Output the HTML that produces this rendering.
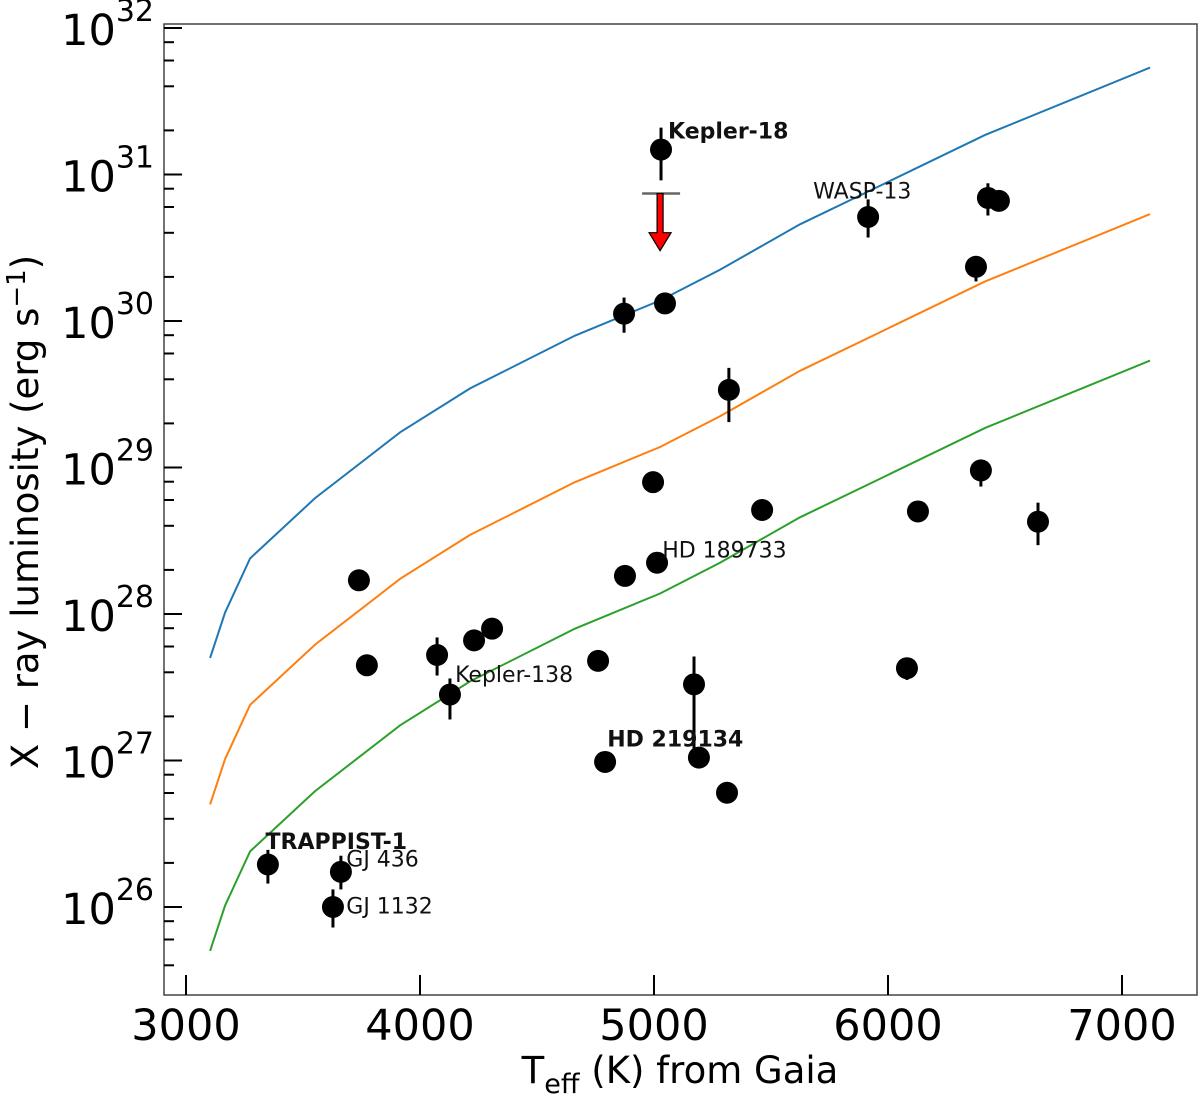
<!DOCTYPE html>
<html><head><meta charset="utf-8"><style>
body{margin:0;background:#fff}
svg{display:block;font-family:"DejaVu Sans","Liberation Sans",sans-serif}
</style></head><body>
<svg id="chart" width="1200" height="1094" viewBox="0 0 1200 1094"></svg>
<script>
// Model curve template (blue = offset 0, orange = -1 dex, green = -2 dex)
const curveT=[3103,3167,3274,3551,3915,4214,4662,5026,5282,5624,5923,6415,7120];
const curveLogL=[27.70,28.01,28.38,28.79,29.24,29.54,29.90,30.14,30.35,30.66,30.89,31.27,31.73];
const curveOffsets=[0,-1,-2];
const curveColors=["#1f77b4","#ff7f0e","#2ca02c"];
// Stars
const starT=[5030,5915,6427,6474,6376,4872,5047,5320,4996,5462,6397,6128,6641,3739,4876,5013,4231,4308,3773,4073,4761,4128,6081,5171,4791,5192,5312,3350,3662,3628];
const starLogL=[31.17,30.71,30.84,30.82,30.37,30.05,30.12,29.53,28.90,28.71,28.98,28.70,28.63,28.23,28.26,28.35,27.82,27.90,27.65,27.72,27.68,27.45,27.63,27.52,26.99,27.02,26.78,26.29,26.24,26.00];
const errLo=[30.96,30.57,30.72,null,30.27,29.92,null,29.31,null,null,28.87,null,28.47,null,null,null,null,null,null,27.58,null,27.28,27.55,27.07,null,null,null,26.16,26.12,25.86];
const errHi=[31.32,30.83,30.94,null,30.43,30.16,null,29.68,null,null,29.04,null,28.76,null,null,null,null,null,null,27.84,null,27.56,27.69,27.71,null,null,null,26.39,26.35,26.12];
const labelNames=["Kepler-18","WASP-13","HD 189733","Kepler-138","HD 219134","TRAPPIST-1","GJ 436","GJ 1132"];
const labelT=[5060,5680,5035,4150,4800,3340,3685,3685];
const labelLogL=[31.30,30.89,28.44,27.59,27.15,26.45,26.33,26.01];
const labelBold=[true,false,false,false,true,true,false,false];
const ulT=[5026];const ulLogL=[30.87];const ulArrowLogL=[30.48];
const xTicks=[3000,4000,5000,6000,7000];
const yTicks=[26,27,28,29,30,31,32];

const L=164,R=1197,T=24,B=995;
const X=t=>186+(t-3000)*0.234;
const Y=l=>907-(l-26)*146.5;
const svg=document.getElementById('chart');
const NS='http://www.w3.org/2000/svg';
function mk(tag,attrs,parent){const e=document.createElementNS(NS,tag);for(const k in attrs)e.setAttribute(k,attrs[k]);(parent||svg).appendChild(e);return e;}

let e=mk('rect',{x:L,y:T,width:R-L,height:B-T,fill:'none',stroke:'#444','stroke-width':1.5});



curveOffsets.forEach((off,i)=>{
  const p=mk('polyline',{points:curveT.map((t,j)=>X(t)+','+Y(curveLogL[j]+off)).join(' '),fill:'none',stroke:curveColors[i],'stroke-width':2});
  
  
});

yTicks.forEach(v=>{
  const y=Y(v);
  let t=mk('line',{x1:L,x2:L+18,y1:y,y2:y,stroke:'#000','stroke-width':2});
  
  
  const tx=mk('text',{x:154,y:y+17,'text-anchor':'end','font-size':43,fill:'#000'});
  
  
  tx.innerHTML='10<tspan dy="-24" font-size="30">'+v+'</tspan>';
  [2,4,6,8].forEach(m=>{const ly=Y(v-1+Math.log10(m));if(ly>T&&ly<B){const mt=mk('line',{x1:L,x2:L+10,y1:ly,y2:ly,stroke:'#000','stroke-width':2});
    
    }});
});
xTicks.forEach(v=>{
  const x=X(v);
  let t=mk('line',{x1:x,x2:x,y1:B,y2:B-20,stroke:'#000','stroke-width':2});
  
  
  const tx=mk('text',{x:x,y:1040,'text-anchor':'middle','font-size':43,fill:'#000'});
  
  
  tx.textContent=v;
});
e=mk('text',{x:680,y:1083,'text-anchor':'middle','font-size':37,fill:'#000'});


e.innerHTML='T<tspan dy="10" font-size="27">eff</tspan><tspan dy="-10"> (K) from Gaia</tspan>';
e=mk('text',{x:0,y:0,'text-anchor':'middle','font-size':37,fill:'#000',transform:'translate(38,512) rotate(-90)'});


e.innerHTML='X − ray luminosity (erg s<tspan dy="-13" font-size="26">−1</tspan><tspan dy="13">)</tspan>';

starT.forEach((t,i)=>{
  const x=X(t);
  if(errLo[i]!==null){const b=mk('line',{x1:x,x2:x,y1:Y(errLo[i]),y2:Y(errHi[i]),stroke:'#000','stroke-width':3});
    
    }
  const c=mk('circle',{cx:x,cy:Y(starLogL[i]),r:11,fill:'#000'});
  
  
});
ulT.forEach((t,i)=>{
  const x=X(t),y0=Y(ulLogL[i]),y1=Y(ulArrowLogL[i]);
  const g=mk('g',{});
  
  
  mk('line',{x1:x-18,x2:x+20,y1:y0,y2:y0,stroke:'#666','stroke-width':2.5},g);
  mk('polygon',{points:[[x-3,y0],[x+3,y0],[x+3,y1-18],[x+11,y1-18],[x,y1],[x-11,y1-18],[x-3,y1-18]].map(p=>p.join(',')).join(' '),fill:'#f00',stroke:'#000','stroke-width':1.2},g);
});
labelNames.forEach((n,i)=>{
  const tx=mk('text',{x:X(labelT[i]),y:Y(labelLogL[i])+8,'font-size':22,fill:'#111','font-weight':labelBold[i]?'bold':'normal'});
  
  
  tx.textContent=n;
});
</script>
</body></html>
